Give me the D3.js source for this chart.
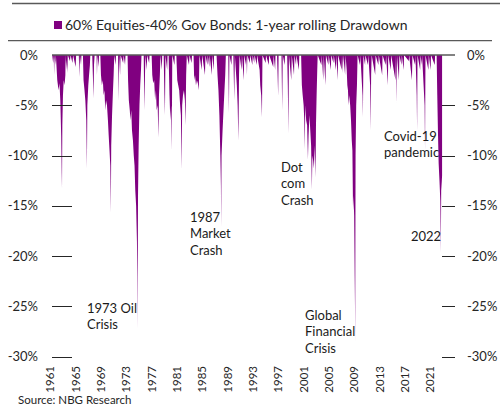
<!DOCTYPE html>
<html>
<head>
<meta charset="utf-8">
<script src="https://cdn.jsdelivr.net/npm/d3@7"></script>
<style>
  body { margin: 0; background: #fff; }
  svg { display: block; font-family: Lato, "Open Sans", sans-serif; }
</style>
</head>
<body>
<svg id="chart" width="500" height="405"></svg>
<script>
// 1-year rolling drawdown of a 60/40 portfolio: [decimal year, %]
const drawdownPoints = [
  [1961.30, 0], [1961.45, -0.8], [1961.55, 0], [1961.60, -2.0], [1961.68, 0], [1961.80, -1.0], [1961.88, 0],
  [1962.10, -2.5], [1962.30, -3.5], [1962.45, -2.8], [1962.58, -4.5], [1962.72, -8], [1962.80, -11.8],
  [1962.85, -13.3], [1962.90, -7], [1963.00, -4], [1963.12, -2.5], [1963.25, -3], [1963.38, -2], [1963.42, 0],
  [1963.52, -1.5], [1963.60, -0.5], [1963.70, -1.8], [1963.76, 0], [1964.10, -0.6], [1964.20, 0],
  [1964.50, -0.8], [1964.60, 0], [1965.00, -1.2], [1965.08, 0], [1965.50, 0], [1965.60, -2.2], [1965.68, 0],
  [1965.85, -1.0], [1965.92, 0], [1966.15, 0], [1966.25, -2.5], [1966.40, -3.5], [1966.53, -4.5],
  [1966.68, -6.5], [1966.78, -11.3], [1966.85, -5], [1967.00, -3], [1967.12, -2], [1967.25, -1], [1967.32, 0],
  [1967.62, 0], [1967.72, -2], [1967.82, -4.3], [1967.90, -1], [1968.00, 0], [1968.30, 0], [1968.37, -2],
  [1968.45, 0], [1968.62, -1.2], [1968.70, 0], [1968.90, 0], [1969.00, -2], [1969.15, -3], [1969.30, -2.5],
  [1969.42, -4], [1969.55, -3.5], [1969.68, -5.5], [1969.80, -4.5], [1969.95, -5], [1970.10, -6.5],
  [1970.22, -8], [1970.35, -9.5], [1970.47, -11], [1970.56, -15.7], [1970.62, -9], [1970.75, -6],
  [1970.90, -3.5], [1971.00, -2], [1971.10, 0], [1971.30, -1], [1971.38, 0], [1971.70, 0], [1971.78, -4.6],
  [1971.86, 0], [1972.02, -2], [1972.10, 0], [1972.50, -0.8], [1972.58, 0], [1972.80, -1], [1972.88, 0],
  [1973.20, 0], [1973.28, -2.5], [1973.40, -4.5], [1973.55, -5.5], [1973.65, -6.5], [1973.78, -5.5],
  [1973.90, -7.5], [1974.05, -8.5], [1974.18, -10], [1974.30, -11], [1974.42, -13.5], [1974.55, -15],
  [1974.68, -18.5], [1974.74, -22], [1974.78, -27.3], [1974.85, -14], [1974.95, -9], [1975.08, -5],
  [1975.20, -3], [1975.32, -1.5], [1975.40, 0], [1975.75, 0], [1975.85, -5.5], [1975.95, -2], [1976.02, 0],
  [1976.22, -1.5], [1976.30, 0], [1976.60, -0.8], [1976.68, 0], [1977.00, 0], [1977.10, -2], [1977.25, -2.8],
  [1977.40, -2.5], [1977.55, -4.5], [1977.68, -3.5], [1977.80, -5.5], [1977.95, -5], [1978.08, -8.2],
  [1978.16, -4], [1978.30, -2], [1978.40, 0], [1978.60, -1.5], [1978.68, 0], [1978.90, 0], [1979.02, -4],
  [1979.10, -6], [1979.18, 0], [1979.45, -1.5], [1979.52, 0], [1979.68, 0], [1979.82, -4], [1979.95, -6.5],
  [1980.08, -5], [1980.18, -9.5], [1980.26, 0], [1980.60, -1], [1980.66, 0], [1980.90, 0], [1981.05, -2.5],
  [1981.20, -3], [1981.35, -3.5], [1981.50, -5], [1981.62, -6], [1981.74, -11.4], [1981.82, -5],
  [1981.95, -4], [1982.10, -3.5], [1982.25, -4.5], [1982.35, -7], [1982.45, -2], [1982.55, 0], [1982.90, -1],
  [1982.98, 0], [1983.30, -0.8], [1983.38, 0], [1983.62, 0], [1983.72, -2.5], [1983.85, -2], [1984.00, -3],
  [1984.15, -2.5], [1984.30, -2.8], [1984.45, -3.5], [1984.55, 0], [1984.90, -1.5], [1984.98, 0],
  [1985.42, -2], [1985.50, 0], [1985.80, -1], [1985.86, 0], [1986.10, -1.2], [1986.16, 0], [1986.50, -2],
  [1986.56, 0], [1986.80, -1.5], [1986.86, 0], [1987.25, 0], [1987.40, -2], [1987.55, -3.5], [1987.70, -6],
  [1987.85, -10], [1987.94, -13], [1987.98, -17.2], [1988.04, -10], [1988.20, -7.5], [1988.35, -5.5],
  [1988.50, -3.5], [1988.62, -2], [1988.72, 0], [1989.10, 0], [1989.20, -5.8], [1989.28, 0], [1989.60, -1],
  [1989.66, 0], [1989.90, 0], [1990.05, -4.5], [1990.14, 0], [1990.45, -3], [1990.58, -5], [1990.70, -8.5],
  [1990.80, -2], [1990.88, 0], [1991.20, -1.5], [1991.26, 0], [1991.55, -2.5], [1991.62, 0], [1991.90, -1],
  [1991.96, 0], [1992.05, -2], [1992.12, 0], [1992.50, -0.8], [1992.56, 0], [1992.90, -1], [1992.96, 0],
  [1993.20, -0.8], [1993.26, 0], [1993.60, -1], [1993.66, 0], [1994.05, -1.5], [1994.15, -3], [1994.30, -4],
  [1994.42, -6.2], [1994.50, 0], [1995.00, -0.8], [1995.06, 0], [1995.50, -1], [1995.56, 0], [1996.20, -1.2],
  [1996.26, 0], [1996.50, -1.5], [1996.56, 0], [1996.80, 0], [1996.98, -4.1], [1997.05, 0], [1997.50, 0],
  [1997.62, -5.5], [1997.70, 0], [1998.00, -1], [1998.06, 0], [1998.40, 0], [1998.50, -3], [1998.60, -7.8],
  [1998.68, 0], [1999.05, -2.5], [1999.12, 0], [1999.48, -2], [1999.55, 0], [1999.80, -1], [1999.86, 0],
  [2000.25, -1.5], [2000.32, 0], [2000.60, 0], [2000.72, -3], [2000.85, -4], [2001.00, -5], [2001.10, -6.5],
  [2001.18, -9.4], [2001.26, -5], [2001.40, -6.5], [2001.55, -7], [2001.68, -10.4], [2001.78, -8],
  [2001.92, -6], [2002.05, -7.5], [2002.18, -9], [2002.30, -13.4], [2002.38, -10], [2002.50, -10.5],
  [2002.62, -11.3], [2002.75, -9], [2002.88, -12.2], [2002.95, -7], [2003.05, -4], [2003.15, -1.5],
  [2003.22, 0], [2003.80, -1], [2003.86, 0], [2004.10, -2.5], [2004.18, 0], [2004.45, -3], [2004.52, 0],
  [2004.90, -1], [2004.96, 0], [2005.30, -1.5], [2005.36, 0], [2005.70, -0.8], [2005.76, 0], [2006.10, -1.5],
  [2006.16, 0], [2006.38, -2.5], [2006.45, 0], [2007.00, -1.5], [2007.06, 0], [2007.20, -1.8], [2007.26, 0],
  [2007.55, -2], [2007.62, 0], [2007.80, -1.5], [2007.90, -3], [2008.00, -3.5], [2008.10, -5], [2008.20, -4],
  [2008.35, -5], [2008.48, -6.5], [2008.60, -8.5], [2008.70, -9.5], [2008.80, -15.5], [2008.88, -14],
  [2008.98, -16], [2009.06, -22], [2009.11, -25], [2009.14, -28.6], [2009.20, -10], [2009.30, -5],
  [2009.42, -3], [2009.52, 0], [2009.90, -1], [2009.96, 0], [2010.30, -4], [2010.36, -6.2], [2010.44, 0],
  [2010.70, -1], [2010.76, 0], [2011.15, -1], [2011.22, 0], [2011.50, -3], [2011.58, -7.5], [2011.66, -2],
  [2011.74, 0], [2012.30, -2], [2012.36, 0], [2012.80, -1], [2012.86, 0], [2013.40, -2], [2013.46, 0],
  [2013.95, -1], [2014.02, 0], [2014.30, -3], [2014.36, 0], [2014.75, -1.5], [2014.82, 0], [2015.50, -2.5],
  [2015.58, 0], [2015.66, -4.8], [2015.74, 0], [2016.05, -2.5], [2016.12, 0], [2016.45, -1], [2016.50, 0],
  [2016.80, -1.5], [2016.86, 0], [2017.60, -0.6], [2017.66, 0], [2018.10, -2.5], [2018.18, 0], [2018.60, -1],
  [2018.66, 0], [2018.85, -4], [2018.92, -7.5], [2018.98, 0], [2019.40, -1.5], [2019.46, 0], [2019.65, -1],
  [2019.70, 0], [2020.10, -5], [2020.17, -9.5], [2020.24, 0], [2020.70, -1.5], [2020.76, 0], [2021.05, -1.5],
  [2021.11, 0], [2021.70, -1], [2021.76, 0], [2022.00, 0], [2022.10, -4], [2022.22, -8], [2022.32, -10.8],
  [2022.45, -12.5], [2022.58, -14.5], [2022.66, -19.7], [2022.72, -13.5], [2022.82, -12.5], [2022.86, -12]
];

const yTicks = [0, -5, -10, -15, -20, -25, -30];
const xTickYears = [1961, 1965, 1969, 1973, 1977, 1981, 1985, 1989, 1993, 1997, 2001, 2005, 2009, 2013, 2017, 2021];
const legendLabel = "60% Equities-40% Gov Bonds: 1-year rolling Drawdown";
const annotations = [
  { lines: ["1973 Oil", "Crisis"], x: 87, y: 308 },
  { lines: ["1987", "Market", "Crash"], x: 190, y: 217 },
  { lines: ["Dot", "com", "Crash"], x: 281, y: 167 },
  { lines: ["Global", "Financial", "Crisis"], x: 305, y: 315 },
  { lines: ["Covid-19", "pandemic"], x: 384, y: 136 },
  { lines: ["2022"], x: 411, y: 236 }
];

const purple = "#800080";
const svg = d3.select("#chart");

const x = d3.scaleLinear().domain([1961, 2021]).range([50.3, 430.3]);
const y = d3.scaleLinear().domain([-30, 0]).range([356.5, 55]);

// frame lines at the top
svg.append("line").attr("x1", 12).attr("x2", 500).attr("y1", 3.5).attr("y2", 3.5)
  .attr("stroke", "#595959").attr("stroke-width", 1.3);
svg.append("line").attr("x1", 8).attr("x2", 492).attr("y1", 40.7).attr("y2", 40.7)
  .attr("stroke", "#595959").attr("stroke-width", 1.3);

// legend
svg.append("rect").attr("x", 54).attr("y", 21).attr("width", 8).attr("height", 8).attr("fill", purple);
svg.append("text").attr("x", 65).attr("y", 25).attr("dy", "0.35em")
  .attr("font-size", 14).attr("fill", "#262626").text(legendLabel);

// drawdown area
const area = d3.area()
  .x((d) => x(d[0]))
  .y0(y(0))
  .y1((d) => y(d[1]));

svg.append("path").datum(drawdownPoints).attr("d", area).attr("fill", purple);

// zero line
svg.append("line").attr("x1", 52).attr("x2", 455).attr("y1", y(0)).attr("y2", y(0))
  .attr("stroke", "#595959").attr("stroke-width", 1.3);

// tick marks both sides
yTicks.filter((t) => t !== 0).forEach((t) => {
  const ty = Math.round(y(t)) + 0.5;
  svg.append("line").attr("x1", 52).attr("x2", 72).attr("y1", ty).attr("y2", ty).attr("stroke", "#262626");
  svg.append("line").attr("x1", 442).attr("x2", 455).attr("y1", ty).attr("y2", ty).attr("stroke", "#262626");
});

// y labels, left and right
const fmt = (t) => t + "%";
svg.append("g").selectAll("text").data(yTicks).join("text")
  .attr("x", 38).attr("y", (d) => y(d)).attr("dy", "0.35em")
  .attr("text-anchor", "end").attr("font-size", 13).attr("fill", "#262626").text(fmt);
svg.append("g").selectAll("text").data(yTicks).join("text")
  .attr("x", 467).attr("y", (d) => y(d)).attr("dy", "0.35em")
  .attr("text-anchor", "start").attr("font-size", 13).attr("fill", "#262626").text(fmt);

// x labels, rotated
svg.append("g").selectAll("text").data(xTickYears).join("text")
  .attr("transform", (d) => `translate(${x(d)},366) rotate(-90)`)
  .attr("dy", "0.35em").attr("text-anchor", "end")
  .attr("font-size", 11.5).attr("fill", "#262626").text((d) => d);

// annotations
annotations.forEach((a) => {
  const t = svg.append("text").attr("font-size", 13).attr("fill", "#1a1a1a");
  a.lines.forEach((line, i) => {
    t.append("tspan").attr("x", a.x).attr("y", a.y + i * 16.7).attr("dy", "0.35em").text(line);
  });
});

// source
svg.append("text").attr("x", 18).attr("y", 403.5).attr("font-size", 11.5).attr("fill", "#262626")
  .text("Source: NBG Research");
</script>
</body>
</html>
